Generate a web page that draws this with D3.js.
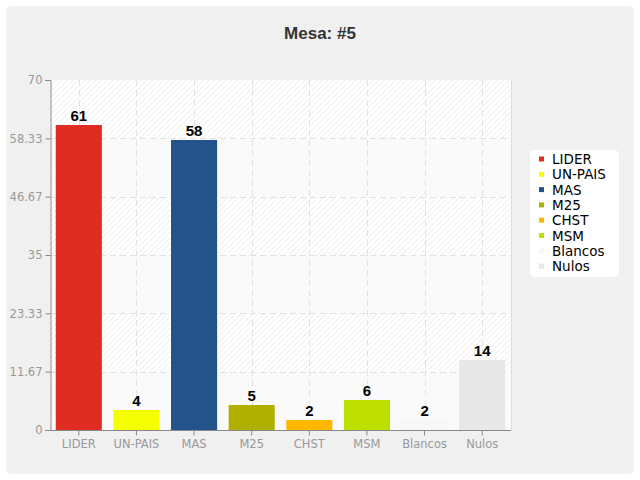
<!DOCTYPE html>
<html><head><meta charset="utf-8">
<script src="https://cdn.jsdelivr.net/npm/d3@7"></script>
<style>body{margin:0;background:#fff}svg{display:block}</style>
</head><body>
<script>
const categories = ["LIDER","UN-PAIS","MAS","M25","CHST","MSM","Blancos","Nulos"];
const values = [61,4,58,5,2,6,2,14];
const colors = ["#e02d24","#f5ff00","#23538a","#b0b000","#ffb700","#bde000","#f7f7f7","#e8e8e8"];
const yTicks = [0,11.67,23.33,35,46.67,58.33,70];
const title = "Mesa: #5";

const W=640,H=480;
const svg=d3.select("body").append("svg").attr("width",W).attr("height",H);
const defs=svg.append("defs");
const pat=defs.append("pattern").attr("id","hatch").attr("patternUnits","userSpaceOnUse")
  .attr("width",4).attr("height",4).attr("patternTransform","rotate(45)");
pat.append("rect").attr("width",4).attr("height",4).attr("fill","#fff");
pat.append("line").attr("x1",0).attr("y1",0).attr("x2",0).attr("y2",4).attr("stroke","#ececec").attr("stroke-width",1.5);

svg.append("rect").attr("x",5.5).attr("y",5.5).attr("width",629).attr("height",469).attr("rx",6)
  .attr("fill","#f0f0f0").attr("stroke","#fbfbfb").attr("stroke-width",2);

svg.append("text").attr("x",320).attr("y",39).attr("text-anchor","middle")
  .attr("font-family","Liberation Sans, Arial, sans-serif").attr("font-weight","bold")
  .attr("font-size",17).attr("fill","#333").text(title);

const m={l:50,t:80,r:511,b:430};
const x=d3.scaleBand().domain(categories).range([m.l,m.r]).paddingInner(0.2).paddingOuter(0.1);
const y=d3.scaleLinear().domain([0,70]).range([m.b,m.t]);

const g=svg.append("g");
g.append("rect").attr("x",m.l).attr("y",m.t).attr("width",m.r-m.l).attr("height",m.b-m.t).attr("fill","url(#hatch)");
for(let i=0;i<yTicks.length-1;i++){
  if(i%2===0){
    g.append("rect").attr("x",m.l).attr("y",y(yTicks[i+1])).attr("width",m.r-m.l)
      .attr("height",y(yTicks[i])-y(yTicks[i+1])).attr("fill","#fafafa").attr("opacity",0.75);
  }
}
g.selectAll(".hg").data(yTicks.slice(1,-1)).join("line")
  .attr("x1",m.l).attr("x2",m.r).attr("y1",d=>Math.round(y(d))+0.5).attr("y2",d=>Math.round(y(d))+0.5)
  .attr("stroke","#e2e2e2").attr("stroke-dasharray","6,4");
g.selectAll(".vg").data(categories).join("line")
  .attr("x1",d=>Math.round(x(d)+x.bandwidth()/2)+0.5).attr("x2",d=>Math.round(x(d)+x.bandwidth()/2)+0.5)
  .attr("y1",m.t).attr("y2",m.b)
  .attr("stroke","#e2e2e2").attr("stroke-dasharray","6,4");
g.append("line").attr("x1",m.r+0.5).attr("x2",m.r+0.5).attr("y1",m.t).attr("y2",m.b).attr("stroke","#ddd");

g.selectAll(".bar").data(values).join("rect")
  .attr("x",(d,i)=>x(categories[i])).attr("width",x.bandwidth())
  .attr("y",d=>y(d)).attr("height",d=>y(0)-y(d))
  .attr("fill",(d,i)=>colors[i]);
g.selectAll(".val").data(values).join("text")
  .attr("x",(d,i)=>x(categories[i])+x.bandwidth()/2).attr("y",d=>y(d)-4)
  .attr("text-anchor","middle").attr("font-family","Liberation Sans, Arial, sans-serif")
  .attr("font-weight","bold").attr("font-size",15).attr("fill","#000").text(d=>d);

const yAxis=d3.axisLeft(y).tickValues(yTicks).tickFormat(d=>d).tickSize(5).tickPadding(3);
const ya=svg.append("g").attr("transform",`translate(${m.l+0.5},0)`).call(yAxis);
const xAxis=d3.axisBottom(x).tickSize(5).tickPadding(4);
const xa=svg.append("g").attr("transform",`translate(0,${m.b+0.5})`).call(xAxis);
[ya,xa].forEach(a=>{
  a.select(".domain").attr("stroke","#888");
  a.selectAll(".tick line").attr("stroke","#888");
  a.selectAll("text").attr("fill","#999").attr("font-family","DejaVu Sans, Verdana, sans-serif").attr("font-size",11.5);
});
xa.select(".domain").attr("d",`M${m.l-5},0H${m.r}`);

const lg=svg.append("g");
lg.append("rect").attr("x",530).attr("y",150).attr("width",89).attr("height",127).attr("rx",5)
  .attr("fill","#fff");
categories.forEach((c,i)=>{
  const yy=159+i*15.3;
  lg.append("rect").attr("x",539).attr("y",yy-2.5).attr("width",5).attr("height",5).attr("fill",colors[i]);
  lg.append("text").attr("x",552).attr("y",yy+5).attr("font-family","DejaVu Sans, Verdana, sans-serif")
    .attr("font-size",13.5).attr("fill","#000").text(c);
});
</script>
</body></html>
